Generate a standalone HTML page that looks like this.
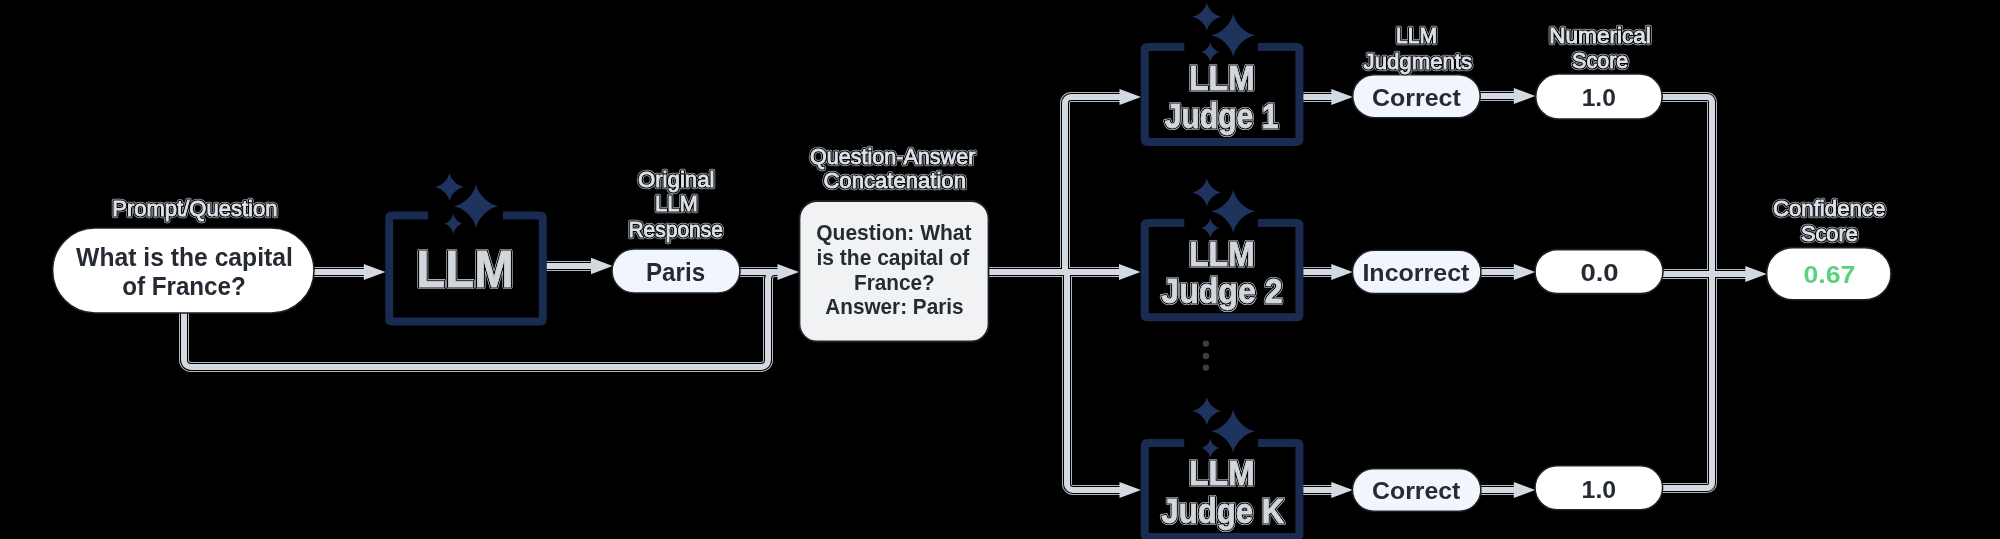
<!DOCTYPE html>
<html><head><meta charset="utf-8"><style>
html,body{margin:0;padding:0;background:#000;width:2000px;height:539px;overflow:hidden}
svg{display:block;will-change:transform}
text{font-family:"Liberation Sans",sans-serif;font-weight:bold;font-kerning:none;font-variant-ligatures:none}
.d{fill:#262b33}
.l1{fill:none;stroke:#a9aeb5;stroke-width:4.6px;stroke-linejoin:round;font-weight:normal}
.l2{fill:none;stroke:#000;stroke-width:3.2px;stroke-linejoin:round;font-weight:normal}
.l3{fill:#dde2e9;stroke:#dde2e9;stroke-width:0.9px;font-weight:normal}
.b1{fill:none;stroke:#e6e9ed;stroke-width:4.2px;stroke-linejoin:round}
.b2{fill:none;stroke:#000;stroke-width:3.1px;stroke-linejoin:round}
.b3{fill:#d2d7de;stroke:#d2d7de;stroke-width:0.8px}
</style></head><body>
<svg width="2000" height="539" viewBox="0 0 2000 539">
<rect width="2000" height="539" fill="#000"/>
<path d="M313,272 H366" fill="none" stroke="#b2b6bc" stroke-width="10" stroke-linejoin="round"/>
<path d="M546,266 H592" fill="none" stroke="#b2b6bc" stroke-width="10" stroke-linejoin="round"/>
<path d="M740,272 H779" fill="none" stroke="#b2b6bc" stroke-width="10" stroke-linejoin="round"/>
<path d="M184,313 L184.00,360.00 A7,7 0 0 0 191.00,367.00 L761.00,367.00 A7,7 0 0 0 768.00,360.00 L768.00,279.00 A7,7 0 0 1 775.00,272.00 L779,272" fill="none" stroke="#b2b6bc" stroke-width="10" stroke-linejoin="round"/>
<path d="M988,272 H1121" fill="none" stroke="#b2b6bc" stroke-width="10" stroke-linejoin="round"/>
<path d="M1065,272 L1065.00,103.00 A6,6 0 0 1 1071.00,97.00 L1121,97" fill="none" stroke="#b2b6bc" stroke-width="10" stroke-linejoin="round"/>
<path d="M1067,272 L1067.00,484.00 A6,6 0 0 0 1073.00,490.00 L1121,490" fill="none" stroke="#b2b6bc" stroke-width="10" stroke-linejoin="round"/>
<path d="M1303,97 H1333" fill="none" stroke="#b2b6bc" stroke-width="10" stroke-linejoin="round"/>
<path d="M1303,272 H1333" fill="none" stroke="#b2b6bc" stroke-width="10" stroke-linejoin="round"/>
<path d="M1303,490 H1333" fill="none" stroke="#b2b6bc" stroke-width="10" stroke-linejoin="round"/>
<path d="M1480,96 H1514" fill="none" stroke="#b2b6bc" stroke-width="10" stroke-linejoin="round"/>
<path d="M1480,272 H1514" fill="none" stroke="#b2b6bc" stroke-width="10" stroke-linejoin="round"/>
<path d="M1480,490 H1514" fill="none" stroke="#b2b6bc" stroke-width="10" stroke-linejoin="round"/>
<path d="M1662,97 L1707.00,97.00 A5,5 0 0 1 1712.00,102.00 L1712,274" fill="none" stroke="#b2b6bc" stroke-width="10" stroke-linejoin="round"/>
<path d="M1662,488 L1707.00,488.00 A5,5 0 0 0 1712.00,483.00 L1712,274" fill="none" stroke="#b2b6bc" stroke-width="10" stroke-linejoin="round"/>
<path d="M1662,274 H1748" fill="none" stroke="#b2b6bc" stroke-width="10" stroke-linejoin="round"/>
<path d="M313,272 H366" fill="none" stroke="#000" stroke-width="8" stroke-linejoin="round"/>
<path d="M546,266 H592" fill="none" stroke="#000" stroke-width="8" stroke-linejoin="round"/>
<path d="M740,272 H779" fill="none" stroke="#000" stroke-width="8" stroke-linejoin="round"/>
<path d="M184,313 L184.00,360.00 A7,7 0 0 0 191.00,367.00 L761.00,367.00 A7,7 0 0 0 768.00,360.00 L768.00,279.00 A7,7 0 0 1 775.00,272.00 L779,272" fill="none" stroke="#000" stroke-width="8" stroke-linejoin="round"/>
<path d="M988,272 H1121" fill="none" stroke="#000" stroke-width="8" stroke-linejoin="round"/>
<path d="M1065,272 L1065.00,103.00 A6,6 0 0 1 1071.00,97.00 L1121,97" fill="none" stroke="#000" stroke-width="8" stroke-linejoin="round"/>
<path d="M1067,272 L1067.00,484.00 A6,6 0 0 0 1073.00,490.00 L1121,490" fill="none" stroke="#000" stroke-width="8" stroke-linejoin="round"/>
<path d="M1303,97 H1333" fill="none" stroke="#000" stroke-width="8" stroke-linejoin="round"/>
<path d="M1303,272 H1333" fill="none" stroke="#000" stroke-width="8" stroke-linejoin="round"/>
<path d="M1303,490 H1333" fill="none" stroke="#000" stroke-width="8" stroke-linejoin="round"/>
<path d="M1480,96 H1514" fill="none" stroke="#000" stroke-width="8" stroke-linejoin="round"/>
<path d="M1480,272 H1514" fill="none" stroke="#000" stroke-width="8" stroke-linejoin="round"/>
<path d="M1480,490 H1514" fill="none" stroke="#000" stroke-width="8" stroke-linejoin="round"/>
<path d="M1662,97 L1707.00,97.00 A5,5 0 0 1 1712.00,102.00 L1712,274" fill="none" stroke="#000" stroke-width="8" stroke-linejoin="round"/>
<path d="M1662,488 L1707.00,488.00 A5,5 0 0 0 1712.00,483.00 L1712,274" fill="none" stroke="#000" stroke-width="8" stroke-linejoin="round"/>
<path d="M1662,274 H1748" fill="none" stroke="#000" stroke-width="8" stroke-linejoin="round"/>
<path d="M313,272 H366" fill="none" stroke="#d3d9e1" stroke-width="6" stroke-linejoin="round"/>
<path d="M546,266 H592" fill="none" stroke="#d3d9e1" stroke-width="6" stroke-linejoin="round"/>
<path d="M740,272 H779" fill="none" stroke="#d3d9e1" stroke-width="6" stroke-linejoin="round"/>
<path d="M184,313 L184.00,360.00 A7,7 0 0 0 191.00,367.00 L761.00,367.00 A7,7 0 0 0 768.00,360.00 L768.00,279.00 A7,7 0 0 1 775.00,272.00 L779,272" fill="none" stroke="#d3d9e1" stroke-width="6" stroke-linejoin="round"/>
<path d="M988,272 H1121" fill="none" stroke="#d3d9e1" stroke-width="6" stroke-linejoin="round"/>
<path d="M1065,272 L1065.00,103.00 A6,6 0 0 1 1071.00,97.00 L1121,97" fill="none" stroke="#d3d9e1" stroke-width="6" stroke-linejoin="round"/>
<path d="M1067,272 L1067.00,484.00 A6,6 0 0 0 1073.00,490.00 L1121,490" fill="none" stroke="#d3d9e1" stroke-width="6" stroke-linejoin="round"/>
<path d="M1303,97 H1333" fill="none" stroke="#d3d9e1" stroke-width="6" stroke-linejoin="round"/>
<path d="M1303,272 H1333" fill="none" stroke="#d3d9e1" stroke-width="6" stroke-linejoin="round"/>
<path d="M1303,490 H1333" fill="none" stroke="#d3d9e1" stroke-width="6" stroke-linejoin="round"/>
<path d="M1480,96 H1514" fill="none" stroke="#d3d9e1" stroke-width="6" stroke-linejoin="round"/>
<path d="M1480,272 H1514" fill="none" stroke="#d3d9e1" stroke-width="6" stroke-linejoin="round"/>
<path d="M1480,490 H1514" fill="none" stroke="#d3d9e1" stroke-width="6" stroke-linejoin="round"/>
<path d="M1662,97 L1707.00,97.00 A5,5 0 0 1 1712.00,102.00 L1712,274" fill="none" stroke="#d3d9e1" stroke-width="6" stroke-linejoin="round"/>
<path d="M1662,488 L1707.00,488.00 A5,5 0 0 0 1712.00,483.00 L1712,274" fill="none" stroke="#d3d9e1" stroke-width="6" stroke-linejoin="round"/>
<path d="M1662,274 H1748" fill="none" stroke="#d3d9e1" stroke-width="6" stroke-linejoin="round"/>
<path d="M363.8,264.1 L385.3,272 L363.8,279.9 Z" fill="#d3d9e1"/>
<path d="M591.0,257.8 L612.5,266 L591.0,274.2 Z" fill="#d3d9e1"/>
<path d="M777.5,264.1 L799,272 L777.5,279.9 Z" fill="#d3d9e1"/>
<path d="M1119.0,264.1 L1140.5,272 L1119.0,279.9 Z" fill="#d3d9e1"/>
<path d="M1119.5,89.1 L1141,97 L1119.5,104.9 Z" fill="#d3d9e1"/>
<path d="M1119.5,482.1 L1141,490 L1119.5,497.9 Z" fill="#d3d9e1"/>
<path d="M1331.3,89.1 L1352.8,97 L1331.3,104.9 Z" fill="#d3d9e1"/>
<path d="M1331.3,264.1 L1352.8,272 L1331.3,279.9 Z" fill="#d3d9e1"/>
<path d="M1331.3,482.1 L1352.8,490 L1331.3,497.9 Z" fill="#d3d9e1"/>
<path d="M1513.8,88.1 L1535.3,96 L1513.8,103.9 Z" fill="#d3d9e1"/>
<path d="M1513.8,264.1 L1535.3,272 L1513.8,279.9 Z" fill="#d3d9e1"/>
<path d="M1513.8,482.1 L1535.3,490 L1513.8,497.9 Z" fill="#d3d9e1"/>
<path d="M1745.3,266.1 L1766.8,274 L1745.3,281.9 Z" fill="#d3d9e1"/>
<rect x="52.6" y="228" width="261.4" height="85" rx="42.5" ry="42.5" fill="#ffffff" stroke="#1d2127" stroke-width="1.6"/>
<text x="76.08" y="266.3" font-size="25.00" textLength="216.77" lengthAdjust="spacingAndGlyphs" class="d">What is the capital</text>
<text x="122.16" y="295.4" font-size="25.00" textLength="123.64" lengthAdjust="spacingAndGlyphs" class="d">of France?</text>
<text x="112.19" y="215.8" font-size="22.67" textLength="165.24" lengthAdjust="spacingAndGlyphs" class="l1">Prompt/Question</text>
<text x="112.19" y="215.8" font-size="22.67" textLength="165.24" lengthAdjust="spacingAndGlyphs" class="l2">Prompt/Question</text>
<text x="112.19" y="215.8" font-size="22.67" textLength="165.24" lengthAdjust="spacingAndGlyphs" class="l3">Prompt/Question</text>
<path d="M428,215.6 H391.7 Q389.2,215.6 389.2,218.1 V319.0 Q389.2,321.5 391.7,321.5 H540.3 Q542.8,321.5 542.8,319.0 V218.1 Q542.8,215.6 540.3,215.6 H503" fill="none" stroke="#1a2b52" stroke-width="8"/>
<path d="M449.50,173.00 Q450.35,177.73 454.61,181.90 Q458.87,186.07 463.70,186.90 Q458.87,187.73 454.61,191.90 Q450.35,196.07 449.50,200.80 Q448.65,196.07 444.39,191.90 Q440.13,187.73 435.30,186.90 Q440.13,186.07 444.39,181.90 Q448.65,177.73 449.50,173.00 Z" fill="#1f335f"/>
<path d="M476.10,184.30 Q477.44,191.75 484.13,198.32 Q490.82,204.89 498.40,206.20 Q490.82,207.51 484.13,214.08 Q477.44,220.65 476.10,228.10 Q474.76,220.65 468.07,214.08 Q461.38,207.51 453.80,206.20 Q461.38,204.89 468.07,198.32 Q474.76,191.75 476.10,184.30 Z" fill="#1f335f"/>
<path d="M453.40,213.40 Q453.93,216.94 456.57,220.06 Q459.21,223.18 462.20,223.80 Q459.21,224.42 456.57,227.54 Q453.93,230.66 453.40,234.20 Q452.87,230.66 450.23,227.54 Q447.59,224.42 444.60,223.80 Q447.59,223.18 450.23,220.06 Q452.87,216.94 453.40,213.40 Z" fill="#1f335f"/>
<text x="416.33" y="286.9" font-size="51.16" textLength="97.34" lengthAdjust="spacingAndGlyphs" class="b1">LLM</text>
<text x="416.33" y="286.9" font-size="51.16" textLength="97.34" lengthAdjust="spacingAndGlyphs" class="b2">LLM</text>
<text x="416.33" y="286.9" font-size="51.16" textLength="97.34" lengthAdjust="spacingAndGlyphs" class="b3">LLM</text>
<rect x="612" y="249" width="128" height="44" rx="22.0" ry="22.0" fill="#f0f6fc" stroke="#1d2127" stroke-width="1.6"/>
<text x="645.98" y="281.3" font-size="25.58" textLength="59.11" lengthAdjust="spacingAndGlyphs" class="d">Paris</text>
<text x="637.95" y="187.3" font-size="22.67" textLength="76.54" lengthAdjust="spacingAndGlyphs" class="l1">Original</text>
<text x="637.95" y="187.3" font-size="22.67" textLength="76.54" lengthAdjust="spacingAndGlyphs" class="l2">Original</text>
<text x="637.95" y="187.3" font-size="22.67" textLength="76.54" lengthAdjust="spacingAndGlyphs" class="l3">Original</text>
<text x="654.99" y="211" font-size="22.67" textLength="42.81" lengthAdjust="spacingAndGlyphs" class="l1">LLM</text>
<text x="654.99" y="211" font-size="22.67" textLength="42.81" lengthAdjust="spacingAndGlyphs" class="l2">LLM</text>
<text x="654.99" y="211" font-size="22.67" textLength="42.81" lengthAdjust="spacingAndGlyphs" class="l3">LLM</text>
<text x="628.38" y="236.5" font-size="22.67" textLength="94.56" lengthAdjust="spacingAndGlyphs" class="l1">Response</text>
<text x="628.38" y="236.5" font-size="22.67" textLength="94.56" lengthAdjust="spacingAndGlyphs" class="l2">Response</text>
<text x="628.38" y="236.5" font-size="22.67" textLength="94.56" lengthAdjust="spacingAndGlyphs" class="l3">Response</text>
<rect x="799.5" y="201" width="189" height="140.5" rx="17.5" ry="17.5" fill="#f1f2f4" stroke="#1d2127" stroke-width="1.8"/>
<text x="816.24" y="239.9" font-size="21.51" textLength="155.32" lengthAdjust="spacingAndGlyphs" class="d">Question: What</text>
<text x="816.54" y="264.7" font-size="21.51" textLength="152.72" lengthAdjust="spacingAndGlyphs" class="d">is the capital of</text>
<text x="854.01" y="289.6" font-size="21.51" textLength="80.68" lengthAdjust="spacingAndGlyphs" class="d">France?</text>
<text x="825.28" y="313.9" font-size="21.51" textLength="138.27" lengthAdjust="spacingAndGlyphs" class="d">Answer: Paris</text>
<text x="809.98" y="163.5" font-size="22.09" textLength="165.38" lengthAdjust="spacingAndGlyphs" class="l1">Question-Answer</text>
<text x="809.98" y="163.5" font-size="22.09" textLength="165.38" lengthAdjust="spacingAndGlyphs" class="l2">Question-Answer</text>
<text x="809.98" y="163.5" font-size="22.09" textLength="165.38" lengthAdjust="spacingAndGlyphs" class="l3">Question-Answer</text>
<text x="823.38" y="187.5" font-size="22.09" textLength="142.56" lengthAdjust="spacingAndGlyphs" class="l1">Concatenation</text>
<text x="823.38" y="187.5" font-size="22.09" textLength="142.56" lengthAdjust="spacingAndGlyphs" class="l2">Concatenation</text>
<text x="823.38" y="187.5" font-size="22.09" textLength="142.56" lengthAdjust="spacingAndGlyphs" class="l3">Concatenation</text>
<path d="M1184.3,47.0 H1147.3 Q1144.8,47.0 1144.8,49.5 V139.5 Q1144.8,142.0 1147.3,142.0 H1296.9 Q1299.4,142.0 1299.4,139.5 V49.5 Q1299.4,47.0 1296.9,47.0 H1257.9" fill="none" stroke="#1a2b52" stroke-width="8"/>
<path d="M1206.80,2.80 Q1207.66,7.53 1211.95,11.70 Q1216.24,15.87 1221.10,16.70 Q1216.24,17.53 1211.95,21.70 Q1207.66,25.87 1206.80,30.60 Q1205.94,25.87 1201.65,21.70 Q1197.36,17.53 1192.50,16.70 Q1197.36,15.87 1201.65,11.70 Q1205.94,7.53 1206.80,2.80 Z" fill="#1f335f"/>
<path d="M1233.20,13.50 Q1234.52,20.88 1241.12,27.39 Q1247.72,33.90 1255.20,35.20 Q1247.72,36.50 1241.12,43.01 Q1234.52,49.52 1233.20,56.90 Q1231.88,49.52 1225.28,43.01 Q1218.68,36.50 1211.20,35.20 Q1218.68,33.90 1225.28,27.39 Q1231.88,20.88 1233.20,13.50 Z" fill="#1f335f"/>
<path d="M1210.30,42.60 Q1210.86,45.80 1213.65,48.62 Q1216.44,51.44 1219.60,52.00 Q1216.44,52.56 1213.65,55.38 Q1210.86,58.20 1210.30,61.40 Q1209.74,58.20 1206.95,55.38 Q1204.16,52.56 1201.00,52.00 Q1204.16,51.44 1206.95,48.62 Q1209.74,45.80 1210.30,42.60 Z" fill="#1f335f"/>
<text x="1188.95" y="90.4" font-size="35.47" textLength="65.89" lengthAdjust="spacingAndGlyphs" class="b1">LLM</text>
<text x="1188.95" y="90.4" font-size="35.47" textLength="65.89" lengthAdjust="spacingAndGlyphs" class="b2">LLM</text>
<text x="1188.95" y="90.4" font-size="35.47" textLength="65.89" lengthAdjust="spacingAndGlyphs" class="b3">LLM</text>
<text x="1164.74" y="127.89999999999999" font-size="34.88" textLength="113.69" lengthAdjust="spacingAndGlyphs" class="b1">Judge 1</text>
<text x="1164.74" y="127.89999999999999" font-size="34.88" textLength="113.69" lengthAdjust="spacingAndGlyphs" class="b2">Judge 1</text>
<text x="1164.74" y="127.89999999999999" font-size="34.88" textLength="113.69" lengthAdjust="spacingAndGlyphs" class="b3">Judge 1</text>
<path d="M1184.3,223.0 H1147.3 Q1144.8,223.0 1144.8,225.5 V314.8 Q1144.8,317.3 1147.3,317.3 H1296.9 Q1299.4,317.3 1299.4,314.8 V225.5 Q1299.4,223.0 1296.9,223.0 H1257.9" fill="none" stroke="#1a2b52" stroke-width="8"/>
<path d="M1206.80,178.50 Q1207.66,183.23 1211.95,187.40 Q1216.24,191.57 1221.10,192.40 Q1216.24,193.23 1211.95,197.40 Q1207.66,201.57 1206.80,206.30 Q1205.94,201.57 1201.65,197.40 Q1197.36,193.23 1192.50,192.40 Q1197.36,191.57 1201.65,187.40 Q1205.94,183.23 1206.80,178.50 Z" fill="#1f335f"/>
<path d="M1233.20,189.50 Q1234.52,196.88 1241.12,203.39 Q1247.72,209.90 1255.20,211.20 Q1247.72,212.50 1241.12,219.01 Q1234.52,225.52 1233.20,232.90 Q1231.88,225.52 1225.28,219.01 Q1218.68,212.50 1211.20,211.20 Q1218.68,209.90 1225.28,203.39 Q1231.88,196.88 1233.20,189.50 Z" fill="#1f335f"/>
<path d="M1210.30,218.60 Q1210.86,221.80 1213.65,224.62 Q1216.44,227.44 1219.60,228.00 Q1216.44,228.56 1213.65,231.38 Q1210.86,234.20 1210.30,237.40 Q1209.74,234.20 1206.95,231.38 Q1204.16,228.56 1201.00,228.00 Q1204.16,227.44 1206.95,224.62 Q1209.74,221.80 1210.30,218.60 Z" fill="#1f335f"/>
<text x="1188.95" y="266.4" font-size="35.47" textLength="65.89" lengthAdjust="spacingAndGlyphs" class="b1">LLM</text>
<text x="1188.95" y="266.4" font-size="35.47" textLength="65.89" lengthAdjust="spacingAndGlyphs" class="b2">LLM</text>
<text x="1188.95" y="266.4" font-size="35.47" textLength="65.89" lengthAdjust="spacingAndGlyphs" class="b3">LLM</text>
<text x="1161.31" y="303.2" font-size="34.88" textLength="121.17" lengthAdjust="spacingAndGlyphs" class="b1">Judge 2</text>
<text x="1161.31" y="303.2" font-size="34.88" textLength="121.17" lengthAdjust="spacingAndGlyphs" class="b2">Judge 2</text>
<text x="1161.31" y="303.2" font-size="34.88" textLength="121.17" lengthAdjust="spacingAndGlyphs" class="b3">Judge 2</text>
<path d="M1184.3,443.1 H1147.3 Q1144.8,443.1 1144.8,445.6 V534.5 Q1144.8,537.0 1147.3,537.0 H1296.9 Q1299.4,537.0 1299.4,534.5 V445.6 Q1299.4,443.1 1296.9,443.1 H1257.9" fill="none" stroke="#1a2b52" stroke-width="8"/>
<path d="M1206.80,397.20 Q1207.66,401.93 1211.95,406.10 Q1216.24,410.27 1221.10,411.10 Q1216.24,411.93 1211.95,416.10 Q1207.66,420.27 1206.80,425.00 Q1205.94,420.27 1201.65,416.10 Q1197.36,411.93 1192.50,411.10 Q1197.36,410.27 1201.65,406.10 Q1205.94,401.93 1206.80,397.20 Z" fill="#1f335f"/>
<path d="M1233.20,409.60 Q1234.52,416.98 1241.12,423.49 Q1247.72,430.00 1255.20,431.30 Q1247.72,432.60 1241.12,439.11 Q1234.52,445.62 1233.20,453.00 Q1231.88,445.62 1225.28,439.11 Q1218.68,432.60 1211.20,431.30 Q1218.68,430.00 1225.28,423.49 Q1231.88,416.98 1233.20,409.60 Z" fill="#1f335f"/>
<path d="M1210.30,438.70 Q1210.86,441.90 1213.65,444.72 Q1216.44,447.54 1219.60,448.10 Q1216.44,448.66 1213.65,451.48 Q1210.86,454.30 1210.30,457.50 Q1209.74,454.30 1206.95,451.48 Q1204.16,448.66 1201.00,448.10 Q1204.16,447.54 1206.95,444.72 Q1209.74,441.90 1210.30,438.70 Z" fill="#1f335f"/>
<text x="1188.95" y="484.6" font-size="35.47" textLength="65.89" lengthAdjust="spacingAndGlyphs" class="b1">LLM</text>
<text x="1188.95" y="484.6" font-size="35.47" textLength="65.89" lengthAdjust="spacingAndGlyphs" class="b2">LLM</text>
<text x="1188.95" y="484.6" font-size="35.47" textLength="65.89" lengthAdjust="spacingAndGlyphs" class="b3">LLM</text>
<text x="1161.33" y="523.1" font-size="34.88" textLength="122.96" lengthAdjust="spacingAndGlyphs" class="b1">Judge K</text>
<text x="1161.33" y="523.1" font-size="34.88" textLength="122.96" lengthAdjust="spacingAndGlyphs" class="b2">Judge K</text>
<text x="1161.33" y="523.1" font-size="34.88" textLength="122.96" lengthAdjust="spacingAndGlyphs" class="b3">Judge K</text>
<circle cx="1205.9" cy="343.6" r="3.2" fill="#3a3f47"/>
<circle cx="1205.9" cy="356" r="3.2" fill="#3a3f47"/>
<circle cx="1205.9" cy="367.6" r="3.2" fill="#3a3f47"/>
<rect x="1352.7" y="74.7" width="127.5" height="43" rx="21.5" ry="21.5" fill="#f0f6fc" stroke="#1d2127" stroke-width="1.6"/>
<text x="1372.08" y="106.0" font-size="23.26" textLength="88.73" lengthAdjust="spacingAndGlyphs" class="d">Correct</text>
<rect x="1352.4" y="250.3" width="128.6" height="43.3" rx="21.65" ry="21.65" fill="#f0f6fc" stroke="#1d2127" stroke-width="1.6"/>
<text x="1362.43" y="281.0" font-size="23.26" textLength="106.98" lengthAdjust="spacingAndGlyphs" class="d">Incorrect</text>
<rect x="1352.4" y="468.7" width="128.5" height="42.5" rx="21.25" ry="21.25" fill="#f0f6fc" stroke="#1d2127" stroke-width="1.6"/>
<text x="1372.08" y="499.1" font-size="23.26" textLength="88.32" lengthAdjust="spacingAndGlyphs" class="d">Correct</text>
<text x="1395.97" y="43.2" font-size="22.09" textLength="41.06" lengthAdjust="spacingAndGlyphs" class="l1">LLM</text>
<text x="1395.97" y="43.2" font-size="22.09" textLength="41.06" lengthAdjust="spacingAndGlyphs" class="l2">LLM</text>
<text x="1395.97" y="43.2" font-size="22.09" textLength="41.06" lengthAdjust="spacingAndGlyphs" class="l3">LLM</text>
<text x="1363.55" y="68.5" font-size="22.09" textLength="108.55" lengthAdjust="spacingAndGlyphs" class="l1">Judgments</text>
<text x="1363.55" y="68.5" font-size="22.09" textLength="108.55" lengthAdjust="spacingAndGlyphs" class="l2">Judgments</text>
<text x="1363.55" y="68.5" font-size="22.09" textLength="108.55" lengthAdjust="spacingAndGlyphs" class="l3">Judgments</text>
<rect x="1535.7" y="74" width="126.5" height="45" rx="22.5" ry="22.5" fill="#ffffff" stroke="#1d2127" stroke-width="1.6"/>
<text x="1581.65" y="106.0" font-size="23.26" textLength="34.16" lengthAdjust="spacingAndGlyphs" class="d">1.0</text>
<rect x="1535" y="249.6" width="128" height="44" rx="22.0" ry="22.0" fill="#ffffff" stroke="#1d2127" stroke-width="1.6"/>
<text x="1580.41" y="281.0" font-size="23.26" textLength="38.21" lengthAdjust="spacingAndGlyphs" class="d">0.0</text>
<rect x="1535" y="465.8" width="127.6" height="44" rx="22.0" ry="22.0" fill="#ffffff" stroke="#1d2127" stroke-width="1.6"/>
<text x="1581.63" y="498.0" font-size="23.26" textLength="34.59" lengthAdjust="spacingAndGlyphs" class="d">1.0</text>
<text x="1549.25" y="42.6" font-size="21.22" textLength="101.56" lengthAdjust="spacingAndGlyphs" class="l1">Numerical</text>
<text x="1549.25" y="42.6" font-size="21.22" textLength="101.56" lengthAdjust="spacingAndGlyphs" class="l2">Numerical</text>
<text x="1549.25" y="42.6" font-size="21.22" textLength="101.56" lengthAdjust="spacingAndGlyphs" class="l3">Numerical</text>
<text x="1572.12" y="68.3" font-size="22.09" textLength="56.13" lengthAdjust="spacingAndGlyphs" class="l1">Score</text>
<text x="1572.12" y="68.3" font-size="22.09" textLength="56.13" lengthAdjust="spacingAndGlyphs" class="l2">Score</text>
<text x="1572.12" y="68.3" font-size="22.09" textLength="56.13" lengthAdjust="spacingAndGlyphs" class="l3">Score</text>
<rect x="1766.6" y="247.6" width="124.4" height="52.2" rx="26.1" ry="26.1" fill="#ffffff" stroke="#1d2127" stroke-width="1.6"/>
<text x="1803.55" y="282.5" font-size="23.69" textLength="51.72" lengthAdjust="spacingAndGlyphs" class="d" style="fill:#59d27d">0.67</text>
<text x="1772.97" y="216.4" font-size="22.38" textLength="112.31" lengthAdjust="spacingAndGlyphs" class="l1">Confidence</text>
<text x="1772.97" y="216.4" font-size="22.38" textLength="112.31" lengthAdjust="spacingAndGlyphs" class="l2">Confidence</text>
<text x="1772.97" y="216.4" font-size="22.38" textLength="112.31" lengthAdjust="spacingAndGlyphs" class="l3">Confidence</text>
<text x="1800.91" y="240.9" font-size="22.09" textLength="56.96" lengthAdjust="spacingAndGlyphs" class="l1">Score</text>
<text x="1800.91" y="240.9" font-size="22.09" textLength="56.96" lengthAdjust="spacingAndGlyphs" class="l2">Score</text>
<text x="1800.91" y="240.9" font-size="22.09" textLength="56.96" lengthAdjust="spacingAndGlyphs" class="l3">Score</text>
</svg>
</body></html>
